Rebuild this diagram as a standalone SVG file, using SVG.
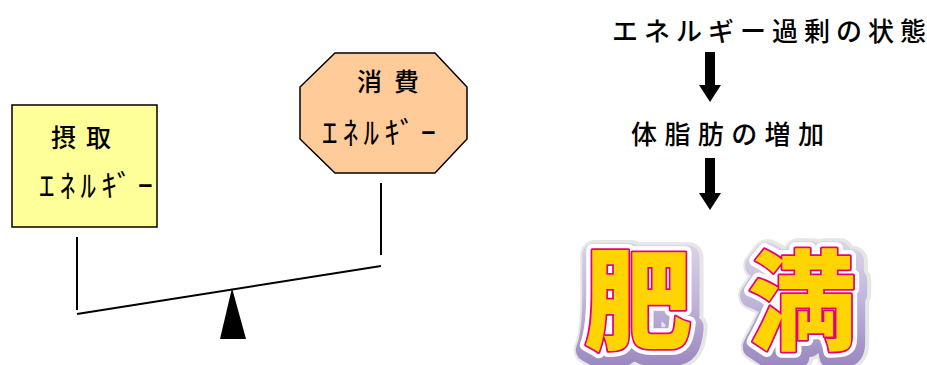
<svg xmlns="http://www.w3.org/2000/svg" width="927" height="365" viewBox="0 0 927 365">
  <defs>
    <linearGradient id="shadowGrad" x1="0" y1="0" x2="0" y2="1">
      <stop offset="0" stop-color="#E4DFEE"/>
      <stop offset="0.5" stop-color="#C2B6DA"/>
      <stop offset="1" stop-color="#9480BC"/>
    </linearGradient>
    <style>
      .jp { font-family: "Noto Sans CJK JP", "Noto Sans", sans-serif; fill: #000; font-weight: 500; }
      .lbl { font-size: 25px; }
      .kana { font-size: 31px; font-weight: 400; }
      .big { font-size: 26px; }
      .shape { stroke: #000; stroke-width: 1.5; }
      .line { stroke: #000; stroke-width: 2; fill: none; }
      .fat { font-family: "Noto Sans CJK JP", sans-serif; font-weight: 900; font-size: 108px; text-anchor: middle; stroke-linejoin: round; }
    </style>
  </defs>

  <g id="intake">
    <rect x="12" y="105" width="145" height="122" fill="#FFFF99" class="shape"/>
    <text class="jp lbl" x="51" y="147" textLength="60" lengthAdjust="spacing">摂取</text>
    <text class="jp kana" x="39" y="197" textLength="114" lengthAdjust="spacing">ｴﾈﾙｷﾞｰ</text>
  </g>

  <g id="consumption">
    <polygon points="335,53 435,53 467,87 467,139 435,173 335,173 300,139 300,87" fill="#FFCC99" class="shape"/>
    <text class="jp lbl" x="357" y="91" textLength="62" lengthAdjust="spacing">消費</text>
    <text class="jp kana" x="322" y="144" textLength="114" lengthAdjust="spacing">ｴﾈﾙｷﾞｰ</text>
  </g>

  <g id="seesaw">
    <line x1="77" y1="237" x2="77" y2="310" class="line"/>
    <line x1="381" y1="183" x2="381" y2="255" class="line"/>
    <line x1="77" y1="314" x2="381" y2="266" class="line"/>
    <polygon points="232,288 246,339 220,339" fill="#000"/>
  </g>

  <g id="excess">
    <text class="jp big" x="612" y="41" textLength="314" lengthAdjust="spacing">エネルギー過剰の状態</text>
  </g>

  <g id="fat-increase">
    <text class="jp big" x="631" y="144" textLength="193" lengthAdjust="spacing">体脂肪の増加</text>
  </g>

  <g id="obesity">
    <text class="fat" x="641" y="346" fill="#E6E6E6" stroke="#E6E6E6" stroke-width="30">肥</text>
    <text class="fat" x="640" y="346" fill="url(#shadowGrad)" stroke="url(#shadowGrad)" stroke-width="24">肥</text>
    <text class="fat" x="638" y="341" fill="#fff" stroke="#fff" stroke-width="12">肥</text>
    <text class="fat" x="638" y="341" fill="#FFD400" stroke="#E6007E" stroke-width="3.5" paint-order="stroke">肥</text>

    <text class="fat" x="805" y="346" fill="#E6E6E6" stroke="#E6E6E6" stroke-width="30">満</text>
    <text class="fat" x="804" y="346" fill="url(#shadowGrad)" stroke="url(#shadowGrad)" stroke-width="24">満</text>
    <text class="fat" x="802" y="341" fill="#fff" stroke="#fff" stroke-width="12">満</text>
    <text class="fat" x="802" y="341" fill="#FFD400" stroke="#E6007E" stroke-width="3.5" paint-order="stroke">満</text>
  </g>

  <g id="connectors">
    <polygon points="705,52 715,52 715,85 721,85 710,102 699,85 705,85" fill="#000"/>
    <polygon points="705,158 715,158 715,193 721,193 710,210 699,193 705,193" fill="#000"/>
  </g>
</svg>
